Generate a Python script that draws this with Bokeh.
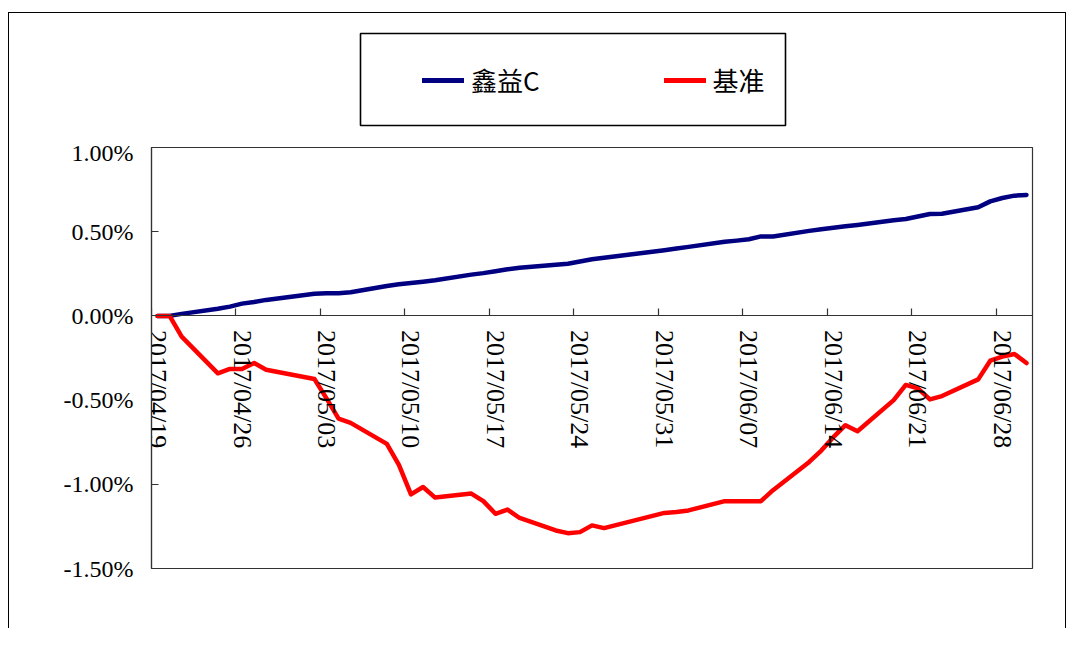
import pandas as pd
from bokeh.plotting import figure
from bokeh.layouts import column
from bokeh.models import (Plot, Range1d, FixedTicker, DatetimeAxis, DatetimeTickFormatter,
                          PrintfTickFormatter, Legend, LegendItem, ColumnDataSource)
from bokeh.embed import file_html
from bokeh.resources import INLINE

# ---------------- data ----------------
dates = ["2017-04-19", "2017-04-20", "2017-04-21", "2017-04-24", "2017-04-25", "2017-04-26",
         "2017-04-27", "2017-04-28", "2017-05-02", "2017-05-03", "2017-05-04", "2017-05-05",
         "2017-05-08", "2017-05-09", "2017-05-10", "2017-05-11", "2017-05-12", "2017-05-15",
         "2017-05-16", "2017-05-17", "2017-05-18", "2017-05-19", "2017-05-22", "2017-05-23",
         "2017-05-24", "2017-05-25", "2017-05-26", "2017-05-31", "2017-06-01", "2017-06-02",
         "2017-06-05", "2017-06-06", "2017-06-07", "2017-06-08", "2017-06-09", "2017-06-12",
         "2017-06-13", "2017-06-14", "2017-06-15", "2017-06-16", "2017-06-19", "2017-06-20",
         "2017-06-21", "2017-06-22", "2017-06-23", "2017-06-26", "2017-06-27", "2017-06-28",
         "2017-06-29", "2017-06-30"]

# cumulative return, in percent
fund = [0.000, 0.000, 0.012, 0.042, 0.055, 0.073,
        0.083, 0.095, 0.131, 0.135, 0.135, 0.140,
        0.178, 0.188, 0.195, 0.203, 0.212, 0.245,
        0.254, 0.265, 0.277, 0.286, 0.304, 0.310,
        0.323, 0.336, 0.345, 0.390, 0.400, 0.410,
        0.440, 0.447, 0.455, 0.472, 0.472, 0.505,
        0.515, 0.523, 0.532, 0.540, 0.568, 0.575,
        0.590, 0.605, 0.607, 0.645, 0.680, 0.700,
        0.714, 0.718]

bench = [0.000, 0.000, -0.123, -0.341, -0.315, -0.315,
         -0.280, -0.320, -0.375, -0.490, -0.610, -0.635,
         -0.760, -0.885, -1.060, -1.016, -1.079, -1.055,
         -1.100, -1.175, -1.150, -1.200, -1.274, -1.290,
         -1.284, -1.244, -1.260, -1.170, -1.165, -1.155,
         -1.100, -1.100, -1.100, -1.100, -1.035, -0.867,
         -0.800, -0.720, -0.649, -0.685, -0.500, -0.410,
         -0.430, -0.496, -0.476, -0.377, -0.266, -0.242,
         -0.226, -0.280]

series_names = ["鑫益C", "基准"]
series_colors = ["#000080", "#FF0000"]

tick_dates = ["2017-04-19", "2017-04-26", "2017-05-03", "2017-05-10", "2017-05-17",
              "2017-05-24", "2017-05-31", "2017-06-07", "2017-06-14", "2017-06-21",
              "2017-06-28"]
y_ticks = [-1.5, -1.0, -0.5, 0.0, 0.5, 1.0]
x_start, x_end = "2017-04-19", "2017-07-01"

# ---------------- helpers ----------------
DAY_MS = 86400000
W = 1056
TOP_H = 126


def ms(d):
    return pd.Timestamp(d).value // 10**6


# each day occupies a slot; points sit mid-slot (Excel date axis, between tick marks)
x_vals = pd.to_datetime(dates) + pd.Timedelta(hours=12)
src = ColumnDataSource(dict(x=x_vals, fund=fund, bench=bench))

tick_font = "Liberation Serif"
can_unalign = "frame_align" in Plot.properties()

# ---------------- legend strip ----------------
if can_unalign:
    # the strip's frame is the legend box itself
    top = figure(width=W, height=TOP_H, x_range=Range1d(0, 1), y_range=Range1d(0, 1),
                 output_backend="svg", toolbar_location=None,
                 min_border_left=351, min_border_right=280, min_border_top=20,
                 min_border_bottom=14)
    top.frame_align = False
    top.outline_line_color = "#000000"
    top.outline_line_width = 1.6
else:
    top = figure(width=W, height=TOP_H, x_range=Range1d(0, 1), y_range=Range1d(0, 1),
                 output_backend="svg", toolbar_location=None,
                 min_border_left=0, min_border_right=0, min_border_top=0, min_border_bottom=0)
    top.outline_line_color = None
top.axis.visible = False
top.xgrid.visible = False
top.ygrid.visible = False
top.background_fill_color = "white"
top.border_fill_color = "white"

# same series; their data lie outside this strip's ranges, only the legend swatches show
g1 = top.line("x", "fund", source=src, line_color=series_colors[0], line_width=5,
              line_cap="round")
g2 = top.line("x", "bench", source=src, line_color=series_colors[1], line_width=5,
              line_cap="round")

items = [LegendItem(label=series_names[0], renderers=[g1]),
         LegendItem(label=series_names[1], renderers=[g2])]
common = dict(orientation="horizontal", label_standoff=7,
              glyph_width=42, glyph_height=30, label_height=30,
              label_text_font="Noto Sans CJK SC", label_text_font_size="26px",
              label_text_color="#000000", margin=0)
if can_unalign:
    legend = Legend(items=items, location=(62, 27), border_line_color=None,
                    background_fill_alpha=0.0, padding=0, spacing=124, **common)
else:
    legend = Legend(items=items, location=(209, 13), border_line_color="#000000",
                    border_line_width=1.6, background_fill_color="white",
                    padding=27, spacing=147, **common)
top.add_layout(legend, "center")

# ---------------- main chart ----------------
p = figure(width=W, height=489, x_axis_type="datetime",
           x_range=Range1d(ms(x_start), ms(x_end)), y_range=Range1d(-1.5, 1.0),
           output_backend="svg", toolbar_location=None,
           min_border_left=142, min_border_right=33, min_border_top=8, min_border_bottom=60)
if can_unalign:
    p.frame_align = False

p.xgrid.visible = False
p.ygrid.visible = False
p.outline_line_color = "#333333"
p.outline_line_width = 1.2
p.background_fill_color = "white"
p.border_fill_color = "white"

# x axis: ticks and line crossing at y = 0
xa = p.xaxis[0]
xa.fixed_location = 0
xa.ticker = FixedTicker(ticks=[ms(d) for d in tick_dates])
xa.major_tick_in = 7
xa.major_tick_out = 0
xa.minor_tick_line_color = None
xa.axis_line_color = "#333333"
xa.axis_line_width = 1.2
xa.major_tick_line_color = "#333333"
xa.major_tick_line_width = 1.2
xa.major_label_text_alpha = 0
xa.major_label_text_font_size = "1px"

# labels for the x axis (slightly right of the ticks, as in the original)
fmt = "%Y/%m/%d"
xl = DatetimeAxis(fixed_location=0,
                  ticker=FixedTicker(ticks=[ms(d) + DAY_MS // 2 for d in tick_dates]),
                  formatter=DatetimeTickFormatter(milliseconds=fmt, seconds=fmt, minsec=fmt,
                                                  minutes=fmt, hourmin=fmt, hours=fmt,
                                                  days=fmt, months=fmt, years=fmt),
                  axis_line_color=None, major_tick_line_color=None,
                  minor_tick_line_color=None, major_tick_in=0, major_tick_out=0,
                  major_label_orientation="vertical", major_label_standoff=14,
                  major_label_text_font=tick_font, major_label_text_font_size="26px",
                  major_label_text_color="#000000")
p.add_layout(xl, "below")

# y axis
ya = p.yaxis[0]
ya.ticker = FixedTicker(ticks=y_ticks)
ya.formatter = PrintfTickFormatter(format="%.2f%%")
ya.major_tick_in = 7
ya.major_tick_out = 0
ya.minor_tick_line_color = None
ya.axis_line_color = "#333333"
ya.axis_line_width = 1.2
ya.major_tick_line_color = "#333333"
ya.major_tick_line_width = 1.2
ya.major_label_standoff = 18
ya.major_label_text_font = tick_font
ya.major_label_text_font_size = "24px"
ya.major_label_text_color = "#000000"

p.line("x", "fund", source=src, line_color=series_colors[0], line_width=4.5,
       line_join="round", line_cap="round")
p.line("x", "bench", source=src, line_color=series_colors[1], line_width=4.5,
       line_join="round", line_cap="round")

layout = column(top, p, spacing=0)
layout.styles = {"border-top": "1px solid #000", "border-left": "1px solid #000",
                 "border-right": "1px solid #000", "margin-top": "12px", "margin-left": "8px",
                 "background-color": "white"}

open("out.html", "w").write(file_html(layout, INLINE))
